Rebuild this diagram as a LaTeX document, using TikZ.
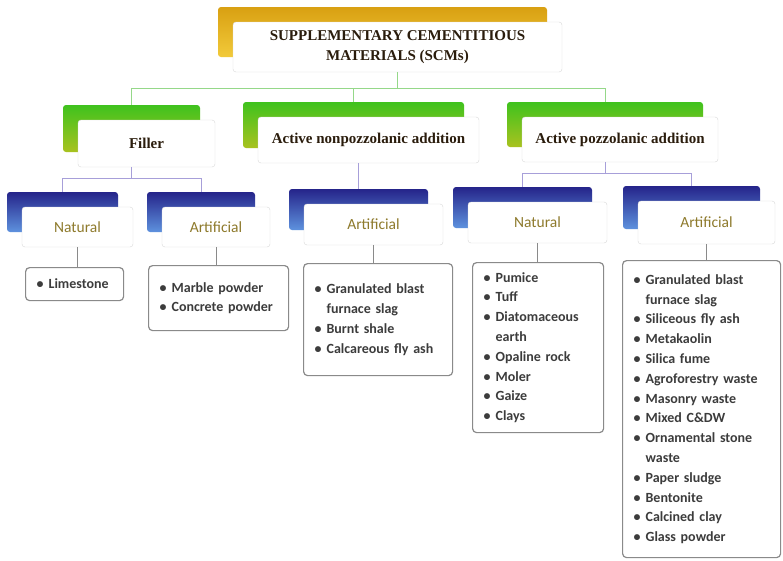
\documentclass[tikz,border=0pt]{standalone}
\usepackage{fontspec}
\setmainfont{Carlito}
\newfontfamily\headfont{Liberation Serif}
\usetikzlibrary{shadows,calc}
\definecolor{goldtop}{HTML}{D9A012}
\definecolor{goldbot}{HTML}{F2CA3A}
\definecolor{greentop}{HTML}{3FC21E}
\definecolor{greenbot}{HTML}{A9C21F}
\definecolor{bluetop}{HTML}{25248A}
\definecolor{bluebot}{HTML}{5E92DE}
\definecolor{headtxt}{HTML}{2A1C0C}
\definecolor{subtxt}{HTML}{8E7A2C}
\definecolor{listtxt}{HTML}{3C3C3C}
\definecolor{listgray}{HTML}{8A8A8A}
\definecolor{greenline}{HTML}{95D889}
\definecolor{blueline}{HTML}{A79FD9}
\newcommand\itm{\makebox[12pt][l]{\textbullet}}
\newcommand\cnt{\hspace*{12pt}}
\tikzset{
  card/.style={fill=white, draw=black!15, rounded corners=3pt, inner sep=0pt},
  back/.style 2 args={general shadow={shadow xshift=-15pt, shadow yshift=15pt,
      top color=#1, bottom color=#2, draw=none}},
  head/.style={card, text=headtxt, align=center,
      font=\headfont\bfseries\fontsize{15}{20}\selectfont},
  sub/.style={card, back={bluetop}{bluebot}, text=subtxt,
      font=\fontsize{15.5}{18}\selectfont},
  itemlist/.style={draw=listgray, line width=1.2pt, rounded corners=4pt, fill=white,
      anchor=north west, align=left, inner xsep=11pt, inner ysep=0pt, text=listtxt,
      font=\bfseries\fontsize{14}{19.8}\selectfont},
  link/.style={draw=#1, line width=1pt}
}
\begin{document}
\begin{tikzpicture}[x=1pt, y=-1pt]
  \fill[white] (0,0) rectangle (783,560);
  \useasboundingbox (0,0) rectangle (783,560);
  % top
  \node[head, back={goldtop}{goldbot}, minimum width=329, minimum height=50] (scm) at (397.5,47)
    {SUPPLEMENTARY CEMENTITIOUS\\MATERIALS (SCMs)};
  % second level
  \node[head, back={greentop}{greenbot}, minimum width=137, minimum height=47] (filler) at (146.5,143.5) {Filler};
  \node[head, back={greentop}{greenbot}, minimum width=221, minimum height=46] (nonpoz) at (368.5,140) {Active nonpozzolanic addition};
  \node[head, back={greentop}{greenbot}, minimum width=196, minimum height=45] (poz) at (620,139.5) {Active pozzolanic addition};
  % third level
  \node[sub, minimum width=111, minimum height=40] (fnat) at (77.5,227) {Natural};
  \node[sub, minimum width=108, minimum height=40] (fart) at (216,227) {Artificial};
  \node[sub, minimum width=139, minimum height=41] (nart) at (373.5,224.5) {Artificial};
  \node[sub, minimum width=139, minimum height=41] (pnat) at (537.5,222.5) {Natural};
  \node[sub, minimum width=137, minimum height=43] (part) at (706.5,222.5) {Artificial};
  % lists
  \node[itemlist, text width=76, minimum height=33] (lime) at (25,267) {\itm Limestone};
  \node[itemlist, text width=118, minimum height=65] (marble) at (148,265)
    {\itm Marble powder\\\itm Concrete powder};
  \node[itemlist, text width=127, minimum height=112] (nlist) at (303,263)
    {\itm Granulated blast\\\cnt furnace slag\\\itm Burnt shale\\\itm Calcareous fly ash};
  \node[itemlist, text width=109, minimum height=170] (plist) at (472,262)
    {\itm Pumice\\\itm Tuff\\\itm Diatomaceous\\\cnt earth\\\itm Opaline rock\\\itm Moler\\\itm Gaize\\\itm Clays};
  \node[itemlist, text width=136, minimum height=297] (alist) at (622,260)
    {\itm Granulated blast\\\cnt furnace slag\\\itm Siliceous fly ash\\\itm Metakaolin\\\itm Silica fume\\
     \itm Agroforestry waste\\\itm Masonry waste\\\itm Mixed C\&DW\\\itm Ornamental stone\\\cnt waste\\
     \itm Paper sludge\\\itm Bentonite\\\itm Calcined clay\\\itm Glass powder};
  % connectors
  \coordinate (bus1) at (0,88);
  \coordinate (fillerb) at ($(filler.north)+(-15,-15)$);
  \coordinate (nonpozb) at ($(nonpoz.north)+(-15,-15)$);
  \coordinate (pozb) at ($(poz.north)+(-15,-15)$);
  \draw[link=greenline] (scm.south) -- (scm.south |- bus1);
  \draw[link=greenline] (fillerb) -- (fillerb |- bus1) -- (pozb |- bus1) -- (pozb);
  \draw[link=greenline] (nonpozb) -- (nonpozb |- bus1);
  \coordinate (fillers) at ($(filler.south)+(-15,0)$);
  \coordinate (fnatb) at ($(fnat.north)+(-15,-15)$);
  \coordinate (fartb) at ($(fart.north)+(-15,-15)$);
  \draw[link=blueline] (fillers) -- ++(0,11) coordinate (bus2);
  \draw[link=blueline] (fnatb) -- (fnatb |- bus2) -- (fartb |- bus2) -- (fartb);
  \coordinate (nartb) at ($(nart.north)+(-15,-15)$);
  \draw[link=blueline] (nartb |- nonpoz.south) -- (nartb);
  \coordinate (pozs) at ($(poz.south)+(-15,0)$);
  \coordinate (pnatb) at ($(pnat.north)+(-15,-15)$);
  \coordinate (partb) at ($(part.north)+(-15,-15)$);
  \draw[link=blueline] (pozs) -- ++(0,11) coordinate (bus3);
  \draw[link=blueline] (pnatb) -- (pnatb |- bus3) -- (partb |- bus3) -- (partb);
  \draw[link=listgray] (fnat.south) -- (fnat.south |- lime.north);
  \draw[link=listgray] (fart.south) -- (fart.south |- marble.north);
  \draw[link=listgray] (nart.south) -- (nart.south |- nlist.north);
  \draw[link=listgray] (pnat.south) -- (pnat.south |- plist.north);
  \draw[link=listgray] (part.south) -- (part.south |- alist.north);
\end{tikzpicture}
\end{document}
